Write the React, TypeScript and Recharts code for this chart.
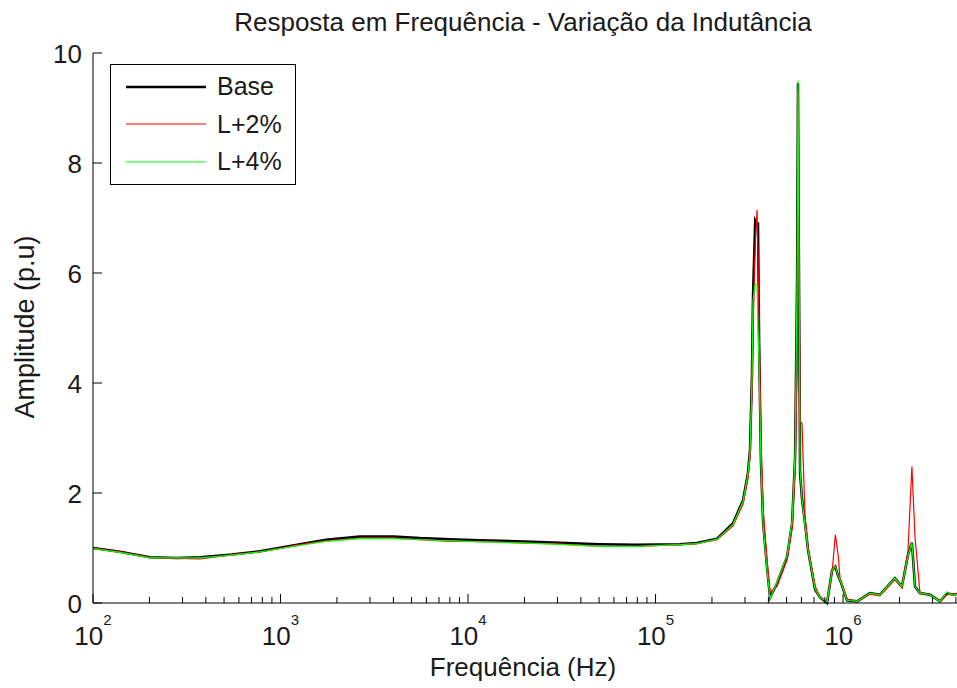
import { LineChart, Line, XAxis, YAxis, Legend } from 'recharts';

const freqHz = [
  100, 139, 201, 280, 373, 550, 778, 1270, 1750, 2650,
  4000, 5540, 8000, 11600, 20000, 28400, 50600, 79600, 135000, 166000,
  213000, 259000, 293000, 311000, 319000, 327000, 331000, 340000, 348000, 352000,
  357000, 365000, 375000, 393000, 408000, 445000, 503000, 535000, 555000, 569000,
  575000, 590000, 604000, 627000, 651000, 710000, 754000, 822000, 874000, 910000,
  940000, 964000, 1050000, 1190000, 1390000, 1570000, 1890000, 2060000, 2220000, 2330000,
  2420000, 2570000, 2910000, 3290000, 3590000, 3860000, 4300000,
];

const baseAmp = [
  1.0, 0.93, 0.83, 0.82, 0.83, 0.88, 0.94, 1.07, 1.15, 1.21,
  1.21, 1.18, 1.16, 1.14, 1.12, 1.1, 1.07, 1.06, 1.07, 1.09,
  1.17, 1.45, 1.87, 2.36, 2.78, 4.18, 5.57, 6.96, 6.9, 6.9,
  4.7, 2.55, 1.45, 0.65, 0.1, 0.36, 0.84, 1.45, 2.65, 5.9,
  9.45, 2.36, 1.9, 1.45, 0.96, 0.24, 0.1, 0.0, 0.6, 0.66,
  0.5, 0.42, 0.05, 0.03, 0.18, 0.15, 0.45, 0.3, 0.87, 1.1,
  0.3, 0.18, 0.15, 0.03, 0.18, 0.15, 0.18,
];

const l2Amp = [
  1.0, 0.93, 0.83, 0.81, 0.8, 0.88, 0.93, 1.06, 1.13, 1.18,
  1.18, 1.15, 1.12, 1.12, 1.09, 1.08, 1.03, 1.03, 1.06, 1.08,
  1.15, 1.4, 1.8, 2.25, 2.65, 3.9, 5.0, 6.5, 7.15, 6.3,
  5.0, 3.0, 1.7, 0.8, 0.2, 0.3, 0.78, 1.35, 2.4, 4.2,
  9.3, 3.3, 3.27, 1.6, 1.0, 0.3, 0.12, 0.02, 0.55, 1.24,
  0.9, 0.45, 0.07, 0.03, 0.16, 0.13, 0.42, 0.28, 0.95, 2.48,
  1.2, 0.2, 0.14, 0.03, 0.15, 0.16, 0.18,
];

const l4Amp = [
  0.99, 0.92, 0.82, 0.82, 0.82, 0.87, 0.93, 1.05, 1.12, 1.17,
  1.17, 1.15, 1.13, 1.11, 1.09, 1.07, 1.03, 1.03, 1.06, 1.08,
  1.16, 1.43, 1.85, 2.35, 2.75, 4.1, 5.5, 5.8, 5.8, 5.0,
  4.3, 2.5, 1.4, 0.6, 0.08, 0.38, 0.86, 1.5, 2.7, 5.9,
  9.5, 2.4, 1.9, 1.4, 0.95, 0.25, 0.1, 0.02, 0.6, 0.66,
  0.5, 0.42, 0.05, 0.03, 0.18, 0.15, 0.45, 0.3, 0.85, 1.1,
  0.3, 0.18, 0.15, 0.03, 0.2, 0.14, 0.18,
];

const majorTicks = [1e2, 1e3, 1e4, 1e5, 1e6];
const minorSteps = [2, 3, 4, 5, 6, 7, 8, 9];
const yTicks = [0, 2, 4, 6, 8, 10];
const xDomain = [100, 4.31e6];

const xTicks = majorTicks
  .flatMap((m) => [m, ...minorSteps.map((s) => m * s)])
  .filter((v) => v <= xDomain[1]);

const data = freqHz.map((f, i) => ({
  f,
  base: baseAmp[i],
  l2: l2Amp[i],
  l4: l4Amp[i],
}));

const FONT = "'Liberation Sans', Arial, Helvetica, sans-serif";
const INK = '#1a1a1a';

const isMajor = (v: number) => majorTicks.some((m) => Math.abs(m - v) < 1e-6 * m);

const BottomTick = (props: any) => {
  const { x, y, payload } = props;
  const v = payload.value;
  const major = isMajor(v);
  return (
    <g>
      <line x1={x} x2={x} y1={y} y2={y - (major ? 9 : 6)} stroke="#000" />
      {major && (
        <text x={x} y={y + 42} textAnchor="middle" fontSize={26} fontFamily={FONT} fill={INK}>
          10
          <tspan dy={-20} fontSize={15}>
            {Math.round(Math.log10(v))}
          </tspan>
        </text>
      )}
    </g>
  );
};

const TopTick = (props: any) => {
  const { x, y, payload } = props;
  const major = isMajor(payload.value);
  return <line x1={x} x2={x} y1={y} y2={y + (major ? 9 : 6)} stroke="#000" />;
};

const LeftTick = (props: any) => {
  const { x, y, payload } = props;
  return (
    <g>
      <line x1={x} x2={x + 9} y1={y} y2={y} stroke="#000" />
      <text x={x - 11} y={y + 9.5} textAnchor="end" fontSize={26} fontFamily={FONT} fill={INK}>
        {payload.value}
      </text>
    </g>
  );
};

const RightTick = (props: any) => {
  const { x, y } = props;
  return <line x1={x} x2={x - 9} y1={y} y2={y} stroke="#000" />;
};

const LegendBox = (props: any) => {
  const items = props.payload || [];
  return (
    <div
      style={{
        width: 186,
        height: 121,
        boxSizing: 'border-box',
        border: '1px solid #000',
        background: '#fff',
        paddingTop: 3,
        fontFamily: FONT,
        fontSize: 25,
        color: INK,
      }}
    >
      {items.map((entry: any) => (
        <div key={entry.value} style={{ display: 'flex', alignItems: 'center', height: 37.5 }}>
          <svg width={106} height={10} style={{ display: 'block' }}>
            <line
              x1={15}
              x2={95}
              y1={5}
              y2={5}
              stroke={entry.color}
              strokeWidth={entry.payload?.strokeWidth ?? 1}
            />
          </svg>
          <span style={{ lineHeight: 1 }}>{entry.value}</span>
        </div>
      ))}
    </div>
  );
};

export default function App() {
  return (
    <div style={{ position: 'absolute', left: 0, top: 0, width: 957, height: 688, overflow: 'hidden', background: '#fff' }}>
      <LineChart width={962} height={688} data={data} margin={{ top: 53, right: 0, bottom: 0, left: 0 }}>
        <text x={523} y={31} textAnchor="middle" fontSize={26} fontFamily={FONT} fill={INK}>
          Resposta em Frequência - Variação da Indutância
        </text>
        <text x={523} y={676} textAnchor="middle" fontSize={26} fontFamily={FONT} fill={INK}>
          Frequência (Hz)
        </text>
        <text x={34} y={327} textAnchor="middle" fontSize={27} fontFamily={FONT} fill={INK} transform="rotate(-90 34 327)">
          Amplitude (p.u)
        </text>
        <XAxis
          dataKey="f"
          type="number"
          scale="log"
          domain={xDomain}
          allowDataOverflow
          ticks={xTicks}
          interval={0}
          height={85}
          tickSize={0}
          tickMargin={0}
          tickLine={false}
          axisLine={{ stroke: '#000' }}
          tick={<BottomTick />}
        />
        <XAxis
          xAxisId="top"
          orientation="top"
          dataKey="f"
          type="number"
          scale="log"
          domain={xDomain}
          allowDataOverflow
          ticks={xTicks}
          interval={0}
          height={0}
          tickSize={0}
          tickMargin={0}
          tickLine={false}
          axisLine={{ stroke: '#000' }}
          tick={<TopTick />}
        />
        <YAxis
          type="number"
          domain={[0, 10]}
          ticks={yTicks}
          interval={0}
          width={93}
          tickSize={0}
          tickMargin={0}
          tickLine={false}
          axisLine={{ stroke: '#000' }}
          tick={<LeftTick />}
        />
        <YAxis
          yAxisId="right"
          orientation="right"
          type="number"
          domain={[0, 10]}
          ticks={yTicks}
          interval={0}
          width={0}
          tickSize={0}
          tickMargin={0}
          tickLine={false}
          axisLine={{ stroke: '#000' }}
          tick={<RightTick />}
        />
        <Legend
          layout="horizontal"
          verticalAlign="middle"
          align="center"
          content={<LegendBox />}
          wrapperStyle={{ left: 110, top: 64, width: 186, height: 121 }}
        />
        <Line
          name="Base"
          dataKey="base"
          type="linear"
          stroke="#000000"
          strokeWidth={2.5}
          dot={false}
          isAnimationActive={false}
        />
        <Line
          name="L+2%"
          dataKey="l2"
          type="linear"
          stroke="#ff0000"
          strokeWidth={1.2}
          dot={false}
          isAnimationActive={false}
        />
        <Line
          name="L+4%"
          dataKey="l4"
          type="linear"
          stroke="#00ff00"
          strokeWidth={1.2}
          dot={false}
          isAnimationActive={false}
        />
      </LineChart>
    </div>
  );
}
